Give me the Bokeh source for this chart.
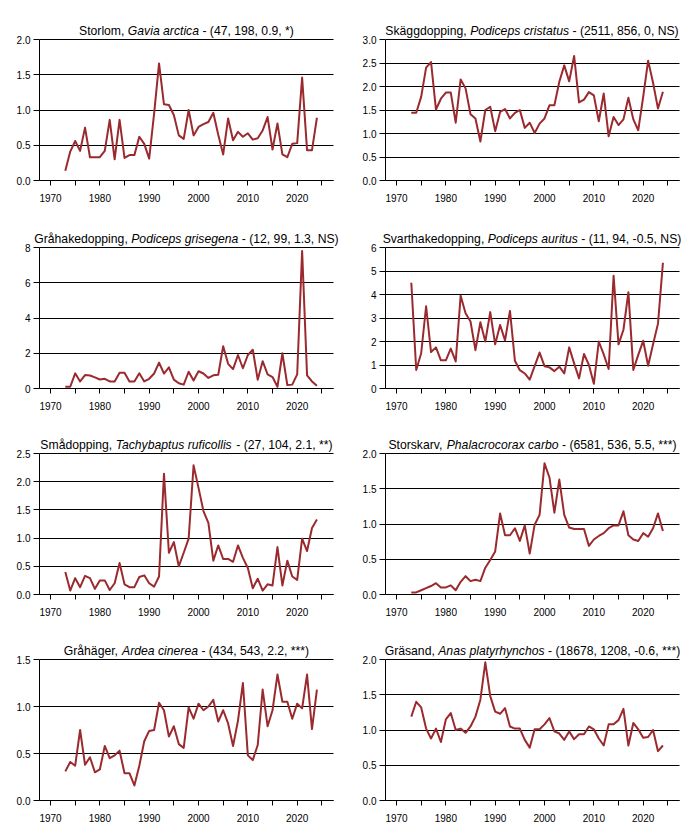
from bokeh.plotting import figure
from bokeh.layouts import column, row
from bokeh.models import Range1d, FixedTicker, NumeralTickFormatter, ColumnDataSource
from bokeh.core.properties import value
from bokeh.embed import file_html
from bokeh.resources import INLINE

years = [1973, 1974, 1975, 1976, 1977, 1978, 1979, 1980, 1981, 1982,
         1983, 1984, 1985, 1986, 1987, 1988, 1989, 1990, 1991, 1992,
         1993, 1994, 1995, 1996, 1997, 1998, 1999, 2000, 2001, 2002,
         2003, 2004, 2005, 2006, 2007, 2008, 2009, 2010, 2011, 2012,
         2013, 2014, 2015, 2016, 2017, 2018, 2019, 2020, 2021, 2022,
         2023, 2024]

storlom = [0.14, 0.41, 0.56, 0.42, 0.75, 0.33, 0.33, 0.33, 0.42, 0.86,
           0.30, 0.86, 0.32, 0.36, 0.36, 0.62, 0.52, 0.31, 0.95, 1.66,
           1.08, 1.07, 0.93, 0.64, 0.59, 1.00, 0.64, 0.76, 0.80, 0.83,
           0.96, 0.65, 0.37, 0.88, 0.57, 0.69, 0.62, 0.67, 0.58, 0.60,
           0.71, 0.90, 0.44, 0.81, 0.37, 0.33, 0.52, 0.53, 1.46, 0.43,
           0.43, 0.89]

skaggdopping = [1.44, 1.44, 1.78, 2.40, 2.52, 1.51, 1.74, 1.87, 1.87, 1.23,
                2.15, 1.96, 1.41, 1.32, 0.83, 1.50, 1.57, 1.05, 1.46, 1.52,
                1.32, 1.44, 1.50, 1.12, 1.23, 1.01, 1.21, 1.32, 1.60, 1.60,
                2.10, 2.45, 2.11, 2.65, 1.66, 1.72, 1.88, 1.81, 1.26, 1.85,
                0.94, 1.35, 1.18, 1.30, 1.76, 1.30, 1.07, 1.78, 2.55, 2.08,
                1.53, 1.89]

grahakedopping = [0.10, 0.10, 0.86, 0.40, 0.76, 0.74, 0.63, 0.51, 0.55, 0.40,
                  0.40, 0.90, 0.90, 0.40, 0.40, 0.86, 0.40, 0.55, 0.85, 1.47,
                  0.85, 1.20, 0.50, 0.30, 0.22, 0.95, 0.45, 0.98, 0.85, 0.60,
                  0.75, 0.78, 2.40, 1.40, 1.10, 1.90, 1.15, 1.90, 2.20, 0.50,
                  1.55, 0.80, 0.65, 0.10, 2.00, 0.20, 0.22, 0.80, 7.80, 0.75,
                  0.40, 0.15]

svarthakedopping = [4.50, 0.79, 1.50, 3.50, 1.55, 1.75, 1.20, 1.20, 1.70, 1.15,
                    3.95, 3.20, 2.85, 1.63, 2.82, 2.00, 3.25, 1.88, 2.70, 2.05,
                    3.30, 1.18, 0.78, 0.64, 0.38, 0.95, 1.53, 0.95, 0.90, 0.74,
                    0.93, 0.64, 1.75, 1.07, 0.43, 1.47, 1.00, 0.20, 2.00, 1.45,
                    0.83, 4.80, 1.88, 2.50, 4.10, 0.79, 1.43, 2.03, 0.97, 1.88,
                    2.76, 5.35]

smadopping = [0.40, 0.07, 0.29, 0.13, 0.33, 0.29, 0.10, 0.25, 0.25, 0.08,
              0.20, 0.56, 0.18, 0.13, 0.13, 0.31, 0.34, 0.20, 0.14, 0.32,
              2.14, 0.74, 0.93, 0.50, 0.74, 0.99, 2.29, 1.89, 1.48, 1.27,
              0.60, 0.87, 0.63, 0.63, 0.58, 0.87, 0.65, 0.47, 0.11, 0.28,
              0.07, 0.18, 0.16, 0.84, 0.16, 0.60, 0.32, 0.26, 0.99, 0.77,
              1.18, 1.33]

storskarv = [0.03, 0.03, 0.06, 0.09, 0.12, 0.16, 0.10, 0.10, 0.13, 0.06,
             0.18, 0.26, 0.19, 0.21, 0.19, 0.38, 0.49, 0.61, 1.15, 0.84,
             0.84, 0.94, 0.76, 0.98, 0.58, 0.99, 1.13, 1.86, 1.66, 1.16,
             1.63, 1.13, 0.95, 0.93, 0.93, 0.93, 0.69, 0.78, 0.83, 0.87,
             0.94, 0.98, 0.98, 1.18, 0.84, 0.78, 0.76, 0.87, 0.82, 0.94,
             1.15, 0.90]

grahager = [0.31, 0.41, 0.37, 0.75, 0.38, 0.46, 0.30, 0.33, 0.58, 0.45,
            0.48, 0.53, 0.29, 0.29, 0.16, 0.37, 0.63, 0.74, 0.75, 1.04,
            0.96, 0.68, 0.79, 0.60, 0.56, 0.99, 0.87, 1.03, 0.96, 1.00,
            1.07, 0.84, 0.96, 0.82, 0.58, 0.85, 1.25, 0.48, 0.43, 0.59,
            1.18, 0.79, 0.96, 1.34, 1.05, 1.05, 0.87, 1.03, 0.98, 1.34,
            0.76, 1.18]

grasand = [1.19, 1.40, 1.32, 1.02, 0.88, 1.02, 0.83, 1.15, 1.24, 1.00,
           1.02, 0.96, 1.05, 1.19, 1.43, 1.96, 1.48, 1.26, 1.23, 1.31,
           1.05, 1.02, 1.02, 0.86, 0.75, 1.01, 1.01, 1.08, 1.17, 0.98,
           0.95, 0.86, 0.98, 0.87, 0.94, 0.94, 1.05, 1.01, 0.88, 0.78,
           1.08, 1.08, 1.14, 1.30, 0.78, 1.10, 1.01, 0.89, 0.90, 1.00,
           0.70, 0.78]

common_names = ["Storlom", "Skäggdopping", "Gråhakedopping", "Svarthakedopping",
                "Smådopping", "Storskarv", "Gråhäger", "Gräsand"]
latin_names = ["Gavia arctica", "Podiceps cristatus", "Podiceps grisegena",
               "Podiceps auritus", "Tachybaptus ruficollis", "Phalacrocorax carbo",
               "Ardea cinerea", "Anas platyrhynchos"]
stats = ["(47, 198, 0.9, *)", "(2511, 856, 0, NS)", "(12, 99, 1.3, NS)",
         "(11, 94, -0.5, NS)", "(27, 104, 2.1, **)", "(6581, 536, 5.5, ***)",
         "(434, 543, 2.2, ***)", "(18678, 1208, -0.6, ***)"]
series = [storlom, skaggdopping, grahakedopping, svarthakedopping,
          smadopping, storskarv, grahager, grasand]
y_max = [2.0, 3.0, 8, 6, 2.5, 2.0, 1.5, 2.0]
y_ticks = [[0, 0.5, 1.0, 1.5, 2.0],
           [0, 0.5, 1.0, 1.5, 2.0, 2.5, 3.0],
           [0, 2, 4, 6, 8],
           [0, 1, 2, 3, 4, 5, 6],
           [0, 0.5, 1.0, 1.5, 2.0, 2.5],
           [0, 0.5, 1.0, 1.5, 2.0],
           [0, 0.5, 1.0, 1.5],
           [0, 0.5, 1.0, 1.5, 2.0]]
y_formats = ["0.0", "0.0", "0", "0", "0.0", "0.0", "0.0", "0.0"]
x_major = [1970, 1980, 1990, 2000, 2010, 2020]
x_minor = [1975, 1985, 1995, 2005, 2015, 2025]

LINE = "#9B2A2E"
FONT = "Liberation Sans"
X0, X1 = 1967.77, 2027.36       # extent of the plot area along x
FIG_W = 346
PL, PR = 39, 333                # plot area left/right in px within a cell
PT, PB = 39, 180                # plot area top/bottom in px within a cell
ROW_H = [208, 206, 206, 207]
TSIZE = 12.2

# Arial / Liberation Sans advance widths (per 1000 em)
CW = {' ': 278, ',': 278, '-': 333, '(': 333, ')': 333, '*': 389, '.': 278,
      'A': 667, 'G': 778, 'N': 722, 'P': 667, 'S': 667, 'T': 611,
      'a': 556, 'b': 556, 'c': 500, 'd': 556, 'e': 556, 'f': 278, 'g': 556,
      'h': 556, 'i': 222, 'k': 500, 'l': 222, 'm': 833, 'n': 556, 'o': 556,
      'p': 556, 'r': 333, 's': 500, 't': 278, 'u': 556, 'v': 500, 'y': 500,
      'å': 556, 'ä': 556, 'ö': 556, 'x': 500, 'z': 500}


def tw(s, size):
    return sum(CW.get(c, 556) for c in s) * size / 1000.0


def make_panel(i, rix):
    h = ROW_H[rix]
    ymax = y_max[i]
    ppy = (PR - PL) / (X1 - X0)
    ppu = (PB - PT) / ymax
    xr = Range1d(X0 - PL / ppy, X1 + (FIG_W - PR) / ppy)
    yr = Range1d(-(h - PB) / ppu, ymax + PT / ppu)
    p = figure(width=FIG_W, height=h, x_range=xr, y_range=yr,
               output_backend="svg", toolbar_location=None,
               min_border=0, min_border_left=0, min_border_right=0,
               min_border_top=0, min_border_bottom=0)
    p.outline_line_color = None
    p.background_fill_color = "white"
    p.border_fill_color = "white"
    p.xgrid.visible = False
    p.ygrid.ticker = FixedTicker(ticks=y_ticks[i])
    p.ygrid.grid_line_color = "black"
    p.ygrid.grid_line_width = 1
    p.ygrid.grid_line_alpha = 1.0
    try:
        p.ygrid.cross_bounds = (X0, X1)
    except AttributeError:
        p.ygrid.visible = False
        p.segment(x0=[X0] * len(y_ticks[i]), y0=y_ticks[i],
                  x1=[X1] * len(y_ticks[i]), y1=y_ticks[i],
                  line_color="black", line_width=1)

    xa = p.xaxis[0]
    xa.fixed_location = 0
    xa.bounds = (X0, X1)
    xa.ticker = FixedTicker(ticks=x_major, minor_ticks=x_minor)
    xa.axis_line_color = "black"
    xa.major_tick_line_color = "black"
    xa.minor_tick_line_color = "black"
    xa.major_tick_out = 5
    xa.major_tick_in = 0
    xa.minor_tick_out = 5
    xa.minor_tick_in = 0
    xa.major_label_standoff = 8
    xa.major_label_text_font = FONT
    xa.major_label_text_font_size = "10px"
    xa.major_label_text_color = "black"

    ya = p.yaxis[0]
    ya.fixed_location = X0
    ya.bounds = (0, ymax)
    ya.ticker = FixedTicker(ticks=y_ticks[i])
    ya.formatter = NumeralTickFormatter(format=y_formats[i])
    ya.axis_line_color = "black"
    ya.major_tick_line_color = "black"
    ya.minor_tick_line_color = None
    ya.major_tick_out = 6
    ya.major_tick_in = 0
    ya.major_label_standoff = 3
    ya.major_label_text_font = FONT
    ya.major_label_text_font_size = "10px"
    ya.major_label_text_color = "black"

    p.line(years, series[i], line_color=LINE, line_width=2, line_join="round")

    # title: common name, italic latin name, statistics
    a = common_names[i] + ","
    b = latin_names[i]
    c = "- " + stats[i]
    sp = tw(" ", TSIZE)
    wa, wb, wc = tw(a, TSIZE), tw(b, TSIZE), tw(c, TSIZE)
    total = wa + sp + wb + sp + wc
    start = PL + ((PR - PL) - total) / 2.0
    x_at = lambda px: X0 + (px - PL) / ppy
    ty = ymax + 8.3 / ppu
    pieces = [(a, start, "normal"),
              (b, start + wa + sp, "italic"),
              (c, start + wa + sp + wb + sp, "normal")]
    for txt, pos, style in pieces:
        src = ColumnDataSource(dict(x=[x_at(pos)], y=[ty], text=[txt]))
        p.text(x="x", y="y", text="text", source=src, text_font=value(FONT),
               text_font_size=value("%.1fpx" % TSIZE),
               text_font_style=value(style),
               text_baseline=value("alphabetic"), text_align=value("left"),
               text_color="black")
    return p


rows = []
for r in range(4):
    rows.append(row(make_panel(2 * r, r), make_panel(2 * r + 1, r)))
layout = column(*rows)

open("out.html", "w").write(file_html(layout, INLINE))
